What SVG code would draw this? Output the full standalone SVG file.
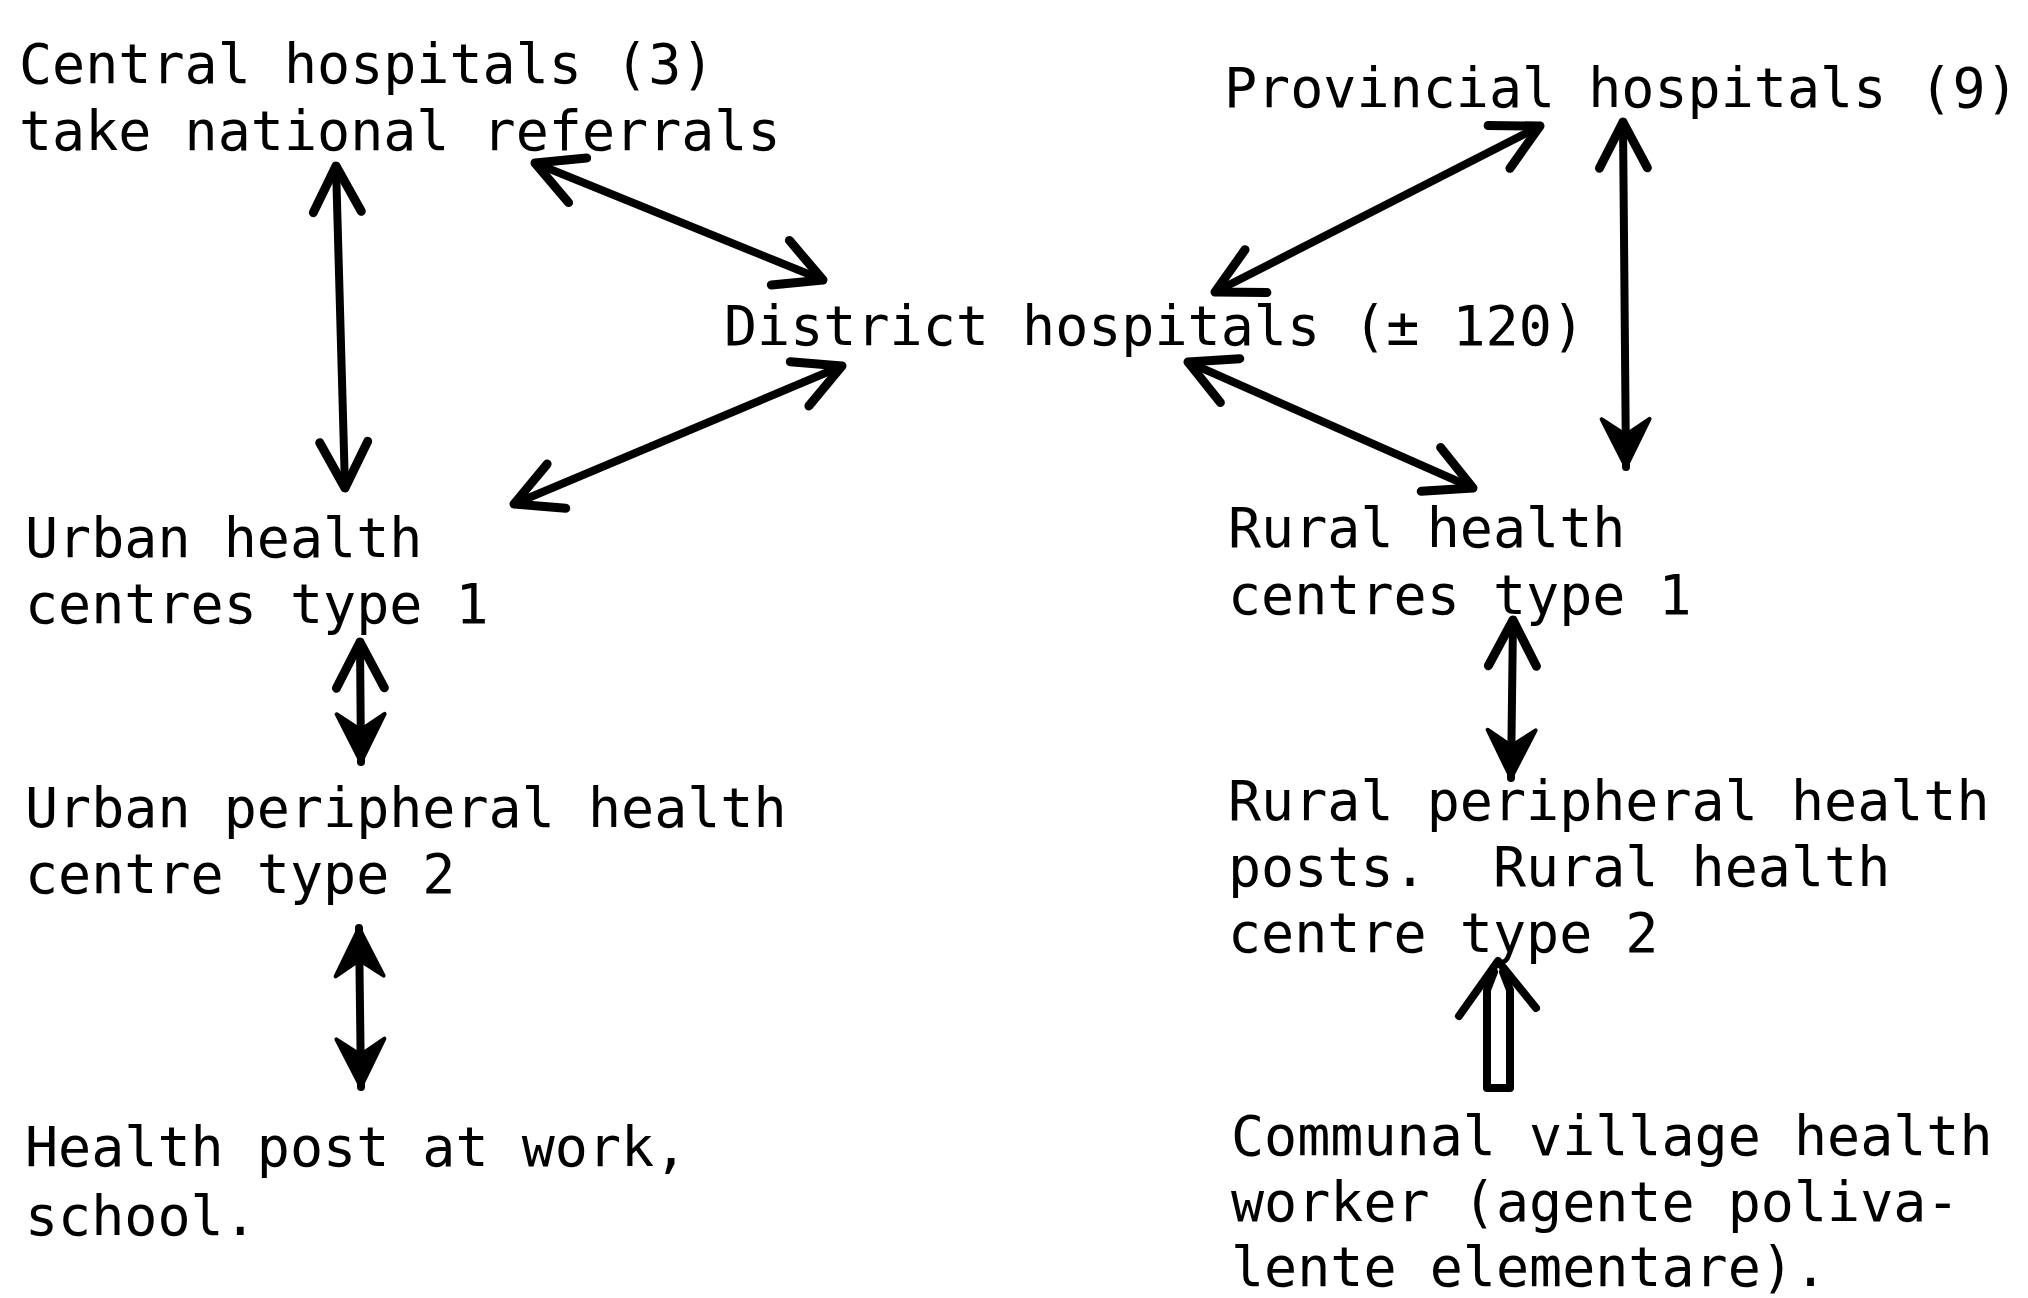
<svg xmlns="http://www.w3.org/2000/svg" width="2028" height="1298" viewBox="0 0 2028 1298">
<style>
.t{font-family:"DejaVu Sans Mono","Liberation Mono",monospace;font-size:55px;fill:#000}
.c{stroke:#000;stroke-width:8;fill:none;stroke-linecap:round}
</style>
<defs>
<marker id="open" markerUnits="userSpaceOnUse" orient="auto-start-reverse" refX="0" refY="0" markerWidth="120" markerHeight="120" viewBox="-60 -60 120 120" overflow="visible">
<path d="M-46,-24 L0,0 L-46,24" fill="none" stroke="#000" stroke-width="9" stroke-linecap="round" stroke-linejoin="round"/>
</marker>
<marker id="fill" markerUnits="userSpaceOnUse" orient="auto-start-reverse" refX="0" refY="0" markerWidth="120" markerHeight="120" viewBox="-60 -60 120 120" overflow="visible">
<path d="M-48,-24 L0,0 L-48,24 L-32,0 Z" fill="#000" stroke="#000" stroke-width="4" stroke-linejoin="round"/>
</marker>
</defs>
<rect width="2028" height="1298" fill="#fff"/>

<g id="central">
<text class="t" x="19" y="83">Central hospitals (3)</text>
<text class="t" x="19" y="150">take national referrals</text>
</g>
<g id="provincial">
<text class="t" x="1224" y="107">Provincial hospitals (9)</text>
</g>
<g id="district">
<text class="t" x="724" y="345">District hospitals (± 120)</text>
</g>
<g id="urban-hc1">
<text class="t" x="25" y="557">Urban health</text>
<text class="t" x="25" y="623">centres type 1</text>
</g>
<g id="rural-hc1">
<text class="t" x="1228" y="547">Rural health</text>
<text class="t" x="1228" y="614">centres type 1</text>
</g>
<g id="urban-phc2">
<text class="t" x="25" y="827">Urban peripheral health</text>
<text class="t" x="25" y="893">centre type 2</text>
</g>
<g id="rural-php">
<text class="t" x="1228" y="820">Rural peripheral health</text>
<text class="t" x="1228" y="886" xml:space="preserve">posts.  Rural health</text>
<text class="t" x="1228" y="952">centre type 2</text>
</g>
<g id="health-post">
<text class="t" x="25" y="1166">Health post at work,</text>
<text class="t" x="25" y="1235">school.</text>
</g>
<g id="village-worker">
<text class="t" x="1231" y="1155">Communal village health</text>
<text class="t" x="1231" y="1221">worker (agente poliva-</text>
<text class="t" x="1231" y="1286">lente elementare).</text>
</g>

<g id="connectors">
<path class="c" d="M336,166 L345,488" marker-start="url(#open)" marker-end="url(#open)"/>
<path class="c" d="M535,163 L823,280" marker-start="url(#open)" marker-end="url(#open)"/>
<path class="c" d="M514,504 L842,366" marker-start="url(#open)" marker-end="url(#open)"/>
<path class="c" d="M1540,126 L1215,292" marker-start="url(#open)" marker-end="url(#open)"/>
<path class="c" d="M1188,362 L1473,488" marker-start="url(#open)" marker-end="url(#open)"/>
<path class="c" d="M1623,122 L1626,467" marker-start="url(#open)" marker-end="url(#fill)"/>
<path class="c" d="M360,642 L361,762" marker-start="url(#open)" marker-end="url(#fill)"/>
<path class="c" d="M359,928 L361,1087" marker-start="url(#fill)" marker-end="url(#fill)"/>
<path class="c" d="M1513,620 L1511,778" marker-start="url(#open)" marker-end="url(#fill)"/>
<g id="hollow-arrow" fill="none" stroke="#000" stroke-width="8" stroke-linejoin="round" stroke-linecap="round">
<path d="M1459,1016 L1498,961 L1536,1008"/>
<path d="M1494,972 L1487,990 L1487,1088 L1510,1088 L1510,990 L1503,972"/>
</g>
</g>
</svg>
